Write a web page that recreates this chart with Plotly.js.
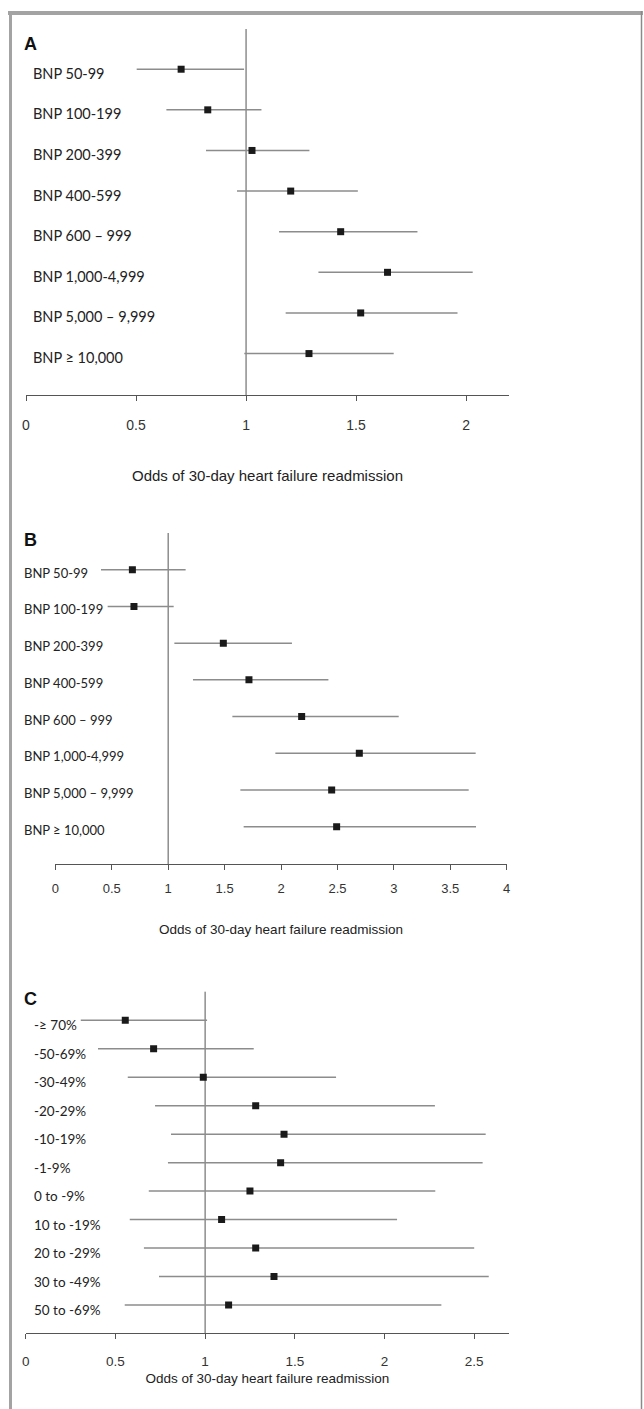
<!DOCTYPE html>
<html>
<head>
<meta charset="utf-8">
<script src="https://cdn.plot.ly/plotly-3.0.1.min.js"></script>
<style>html,body{margin:0;padding:0;background:#fff;}#chart{width:644px;height:1409px;}</style>
</head>
<body>
<div id="chart"></div>
<script>
// Panel A: BNP categories (model 1)
var catsA = ["BNP 50-99", "BNP 100-199", "BNP 200-399", "BNP 400-599", "BNP 600 \u2013 999", "BNP 1,000-4,999", "BNP 5,000 \u2013 9,999", "BNP \u2265 10,000"];
var orA   = [0.705, 0.826, 1.027, 1.203, 1.430, 1.643, 1.521, 1.286];
var lowA  = [0.503, 0.638, 0.818, 0.959, 1.150, 1.329, 1.180, 0.992];
var highA = [0.991, 1.070, 1.288, 1.508, 1.779, 2.030, 1.961, 1.671];

// Panel B: BNP categories (model 2)
var catsB = ["BNP 50-99", "BNP 100-199", "BNP 200-399", "BNP 400-599", "BNP 600 \u2013 999", "BNP 1,000-4,999", "BNP 5,000 \u2013 9,999", "BNP \u2265 10,000"];
var orB   = [0.683, 0.697, 1.489, 1.716, 2.183, 2.694, 2.449, 2.493];
var lowB  = [0.405, 0.464, 1.055, 1.220, 1.569, 1.950, 1.640, 1.669];
var highB = [1.155, 1.049, 2.097, 2.420, 3.043, 3.725, 3.663, 3.728];

// Panel C: percent change in BNP
var catsC = ["-\u2265 70%", "-50-69%", "-30-49%", "-20-29%", "-10-19%", "-1-9%", "0 to -9%", "10 to -19%", "20 to -29%", "30 to -49%", "50 to -69%"];
var orC   = [0.555, 0.713, 0.990, 1.282, 1.440, 1.421, 1.250, 1.092, 1.282, 1.384, 1.131];
var lowC  = [0.307, 0.403, 0.569, 0.721, 0.810, 0.793, 0.686, 0.580, 0.659, 0.743, 0.552];
var highC = [1.011, 1.271, 1.730, 2.281, 2.564, 2.547, 2.283, 2.070, 2.500, 2.581, 2.317];

var panelLetters = ["A", "B", "C"];
var xTitle = "Odds of 30-day heart failure readmission";

var W = 644, H = 1409;
function px(v){ return v / W; }
function py(v){ return 1 - v / H; }

function trace(cats, or, low, high, xa, ya){
  return {
    type: "scatter", mode: "markers",
    x: or, y: cats, xaxis: xa, yaxis: ya,
    marker: {symbol: "square", size: 7, color: "#1a1a1a"},
    error_x: {
      type: "data", symmetric: false,
      array: high.map(function(h, i){ return h - or[i]; }),
      arrayminus: low.map(function(l, i){ return or[i] - l; }),
      color: "#8c8c8c", thickness: 1.5, width: 0
    },
    hoverinfo: "x+y"
  };
}

var data = [
  trace(catsA, orA, lowA, highA, "x", "y"),
  trace(catsB, orB, lowB, highB, "x2", "y2"),
  trace(catsC, orC, lowC, highC, "x3", "y3")
];

var tickFont = {family: "Liberation Sans, Arial, sans-serif", color: "#333"};
function xaxis(domain, range, anchor, fsize, tsize, lblOff, standoff){
  return {
    domain: domain, range: range, anchor: anchor,
    showgrid: false, zeroline: false, showline: true, linecolor: "#555", linewidth: 1,
    ticks: "outside", ticklen: 5, tickcolor: "#555", tickwidth: 1,
    tick0: 0, dtick: 0.5, ticklabelstandoff: lblOff,
    tickfont: Object.assign({size: fsize}, tickFont),
    title: {text: xTitle, standoff: standoff, font: {family: "Liberation Sans, Arial, sans-serif", size: tsize, color: "#222"}},
    automargin: false, fixedrange: true
  };
}
function yaxis(domain, range, anchor, cats){
  return {
    domain: domain, range: range, anchor: anchor, type: "category",
    categoryorder: "array", categoryarray: cats,
    showgrid: false, zeroline: false, showline: false, showticklabels: false, ticks: "",
    automargin: false, fixedrange: true
  };
}

var annotations = [];
function addLabels(cats, ya, xLeft, fsize, yshift){
  cats.forEach(function(c){
    annotations.push({
      xref: "paper", yref: ya, x: px(xLeft), y: c, xanchor: "left", yanchor: "middle",
      yshift: yshift, text: c, showarrow: false,
      font: {family: "Lato, Carlito, sans-serif", size: fsize, color: "#222"}
    });
  });
}
addLabels(catsA, "y", 31, 14.5, -4);
addLabels(catsB, "y2", 22, 13, -3);
addLabels(catsC, "y3", 32, 13.5, -5);

var letterY = [44, 540, 999];
panelLetters.forEach(function(L, i){
  annotations.push({
    xref: "paper", yref: "paper", x: px(22), y: py(letterY[i]), xanchor: "left", yanchor: "middle",
    text: "<b>" + L + "</b>", showarrow: false,
    font: {family: "Liberation Sans, Arial, sans-serif", size: 18, color: "#111"}
  });
});

function refLine(xa, ya){
  return {type: "line", xref: xa, yref: ya + " domain", x0: 1, x1: 1, y0: 0, y1: 1,
          line: {color: "#555", width: 1}, layer: "below"};
}

var shapes = [
  refLine("x", "y"), refLine("x2", "y2"), refLine("x3", "y3"),
  // outer frame
  {type: "line", xref: "paper", yref: "paper", x0: px(8), x1: px(643), y0: py(13), y1: py(13), line: {color: "#a3a3a3", width: 4}},
  {type: "line", xref: "paper", yref: "paper", x0: px(10.5), x1: px(10.5), y0: py(11), y1: py(1420), line: {color: "#a3a3a3", width: 3}},
  {type: "line", xref: "paper", yref: "paper", x0: px(641.5), x1: px(641.5), y0: py(11), y1: py(1420), line: {color: "#8a8a8a", width: 1.5}}
];

var layout = {
  width: W, height: H,
  margin: {l: 0, r: 0, t: 0, b: 0},
  paper_bgcolor: "#fff", plot_bgcolor: "rgba(0,0,0,0)",
  showlegend: false,
  xaxis:  xaxis([px(26), px(509)], [0, 2.195], "y", 14, 15, 12, 38),
  yaxis:  yaxis([py(395), py(29)], [8.02, -0.99], "x", catsA),
  xaxis2: xaxis([px(55.3), px(506.7)], [0, 4], "y2", 13, 13.5, 7, 29),
  yaxis2: yaxis([py(864), py(533)], [8.016, -1.0], "x2", catsB),
  xaxis3: xaxis([px(25.7), px(509)], [0, 2.694], "y3", 13.5, 13.5, 11, 5),
  yaxis3: yaxis([py(1333), py(991.7)], [10.98, -1.0], "x3", catsC),
  annotations: annotations,
  shapes: shapes
};

Plotly.newPlot("chart", data, layout, {displayModeBar: false, staticPlot: true});
</script>
</body>
</html>
